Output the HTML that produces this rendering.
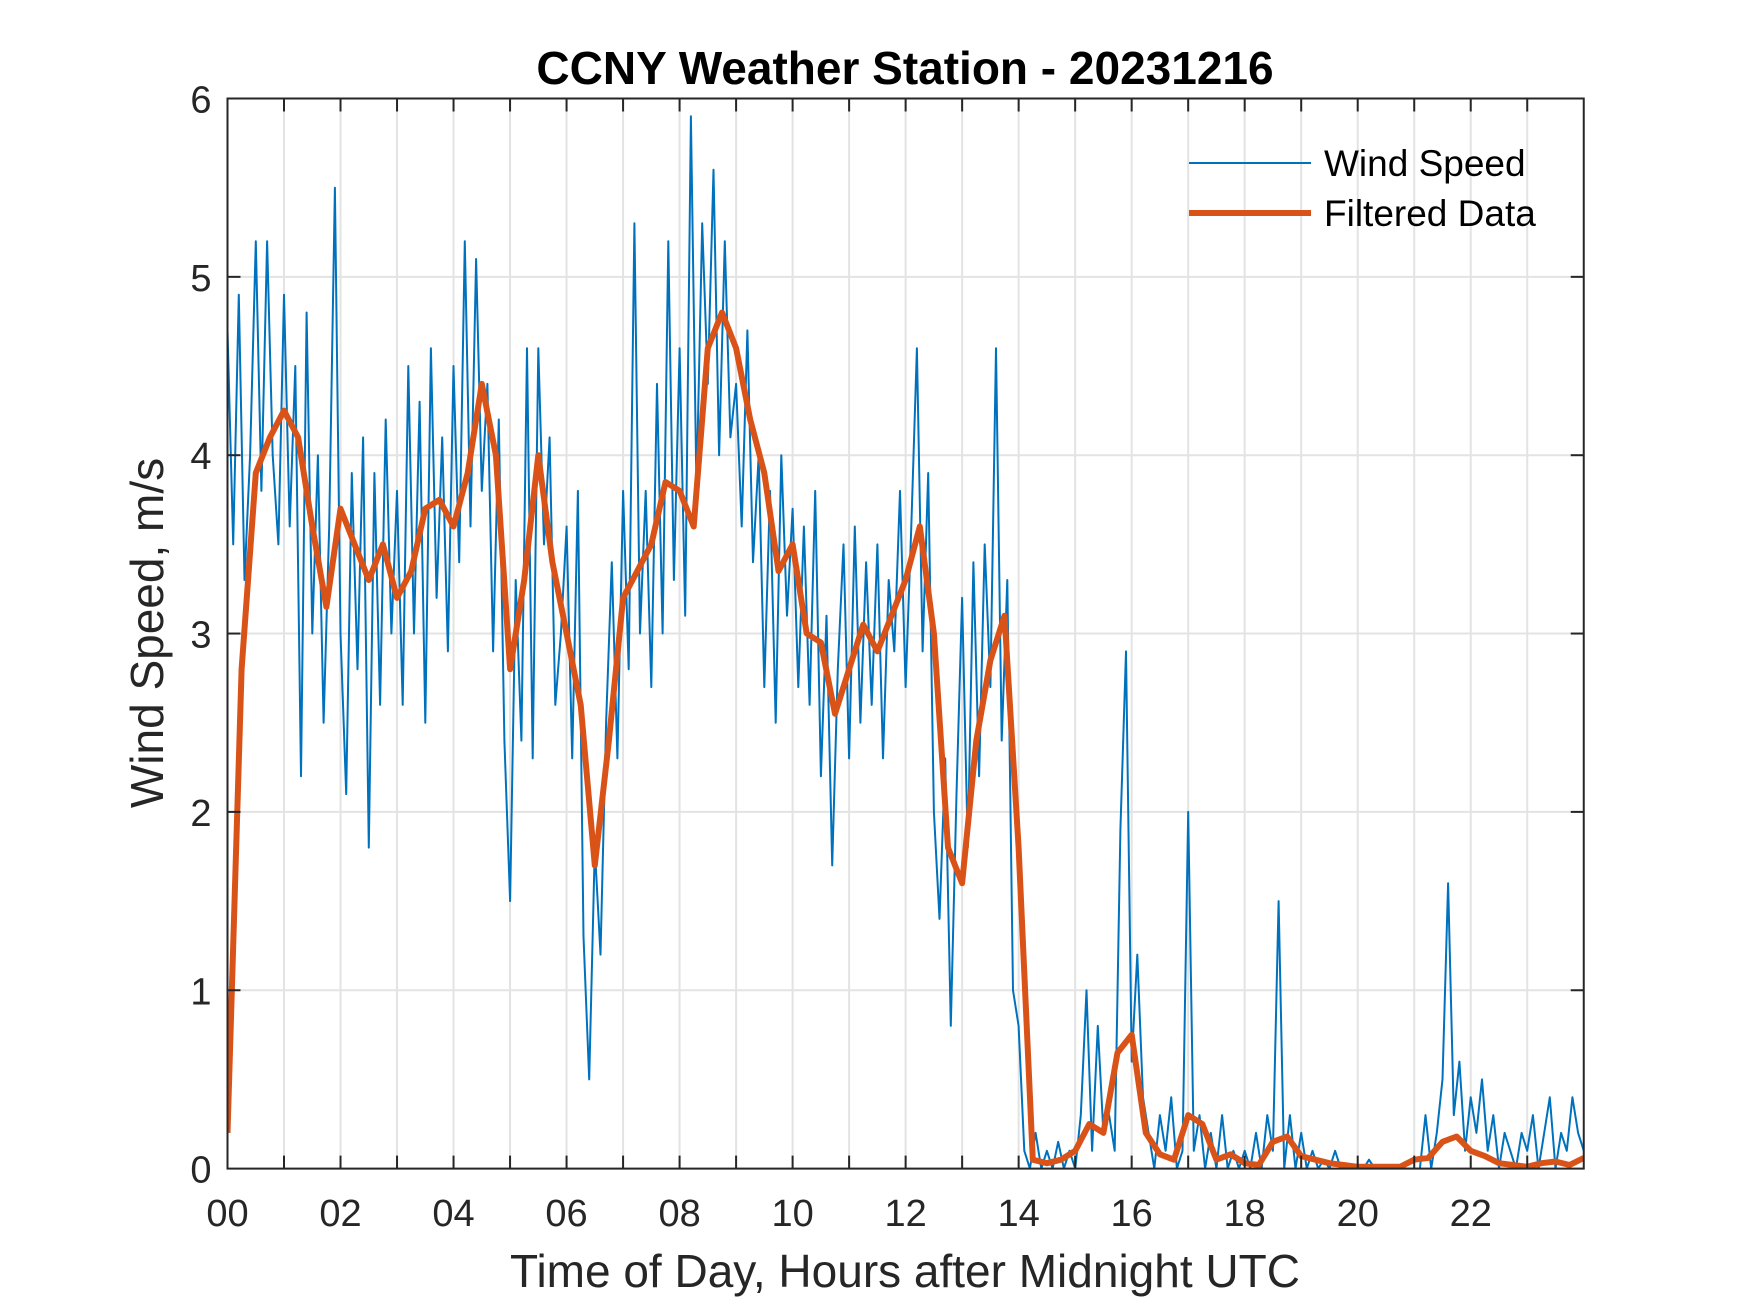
<!DOCTYPE html>
<html><head><meta charset="utf-8"><style>
html,body{margin:0;padding:0;background:#fff;}
svg{display:block;font-family:"Liberation Sans",sans-serif;}
</style></head><body>
<svg id="chart" width="1750" height="1313" viewBox="0 0 1750 1313" xmlns="http://www.w3.org/2000/svg">
<rect width="1750" height="1313" fill="#fff"/>
<g id="grid"></g>
<g id="series"></g>
<g id="axes"></g>
<text x="905" y="84" font-size="46" font-weight="bold" text-anchor="middle" fill="#000">CCNY Weather Station - 20231216</text>
<text x="905" y="1287" font-size="46" text-anchor="middle" fill="#262626">Time of Day, Hours after Midnight UTC</text>
<text transform="translate(163,633) rotate(-90)" font-size="46" text-anchor="middle" fill="#262626">Wind Speed, m/s</text>
<g>
<line x1="1189" y1="163" x2="1311" y2="163" stroke="#0072BD" stroke-width="2"/>
<text x="1324" y="176" font-size="37" fill="#000">Wind Speed</text>
<line x1="1189" y1="213" x2="1311" y2="213" stroke="#D95319" stroke-width="6"/>
<text x="1324" y="226" font-size="37" fill="#000">Filtered Data</text>
</g>
</svg>
<script>
const windSpeed = [
4.7,3.5,4.9,3.3,4.0,5.2,3.8,5.2,4.0,3.5,
4.9,3.6,4.5,2.2,4.8,3.0,4.0,2.5,3.6,5.5,
3.0,2.1,3.9,2.8,4.1,1.8,3.9,2.6,4.2,3.0,
3.8,2.6,4.5,3.0,4.3,2.5,4.6,3.2,4.1,2.9,
4.5,3.4,5.2,3.6,5.1,3.8,4.4,2.9,4.2,2.4,
1.5,3.3,2.4,4.6,2.3,4.6,3.5,4.1,2.6,3.0,
3.6,2.3,3.8,1.3,0.5,1.8,1.2,2.5,3.4,2.3,
3.8,2.8,5.3,3.0,3.8,2.7,4.4,3.0,5.2,3.3,
4.6,3.1,5.9,3.8,5.3,4.4,5.6,4.0,5.2,4.1,
4.4,3.6,4.7,3.4,4.0,2.7,3.8,2.5,4.0,3.1,
3.7,2.7,3.6,2.6,3.8,2.2,3.1,1.7,2.8,3.5,
2.3,3.6,2.5,3.4,2.6,3.5,2.3,3.3,2.9,3.8,
2.7,3.6,4.6,2.9,3.9,2.0,1.4,2.3,0.8,2.1,
3.2,1.8,3.4,2.2,3.5,2.7,4.6,2.4,3.3,1.0,
0.8,0.1,0.0,0.2,0.0,0.1,0.0,0.15,0.0,0.1,
0.0,0.3,1.0,0.1,0.8,0.2,0.3,0.1,1.9,2.9,
0.6,1.2,0.4,0.2,0.0,0.3,0.1,0.4,0.0,0.1,
2.0,0.1,0.3,0.0,0.2,0.0,0.3,0.0,0.1,0.0,
0.1,0.0,0.2,0.0,0.3,0.1,1.5,0.0,0.3,0.0,
0.2,0.0,0.1,0.0,0.05,0.0,0.1,0.0,0.0,0.0,
0.0,0.0,0.05,0.0,0.0,0.0,0.0,0.0,0.0,0.0,
0.0,0.0,0.3,0.0,0.2,0.5,1.6,0.3,0.6,0.1,
0.4,0.2,0.5,0.1,0.3,0.0,0.2,0.1,0.0,0.2,
0.1,0.3,0.0,0.2,0.4,0.0,0.2,0.1,0.4,0.2,
0.1];
const windStep = 0.1;
const filtered = [
0.2,2.8,3.9,4.1,4.25,4.1,3.6,3.15,3.7,3.5,3.3,3.5,3.2,3.35,3.7,3.75,
3.6,3.9,4.4,4.0,2.8,3.3,4.0,3.4,3.0,2.6,1.7,2.4,3.2,3.35,3.5,3.85,
3.8,3.6,4.6,4.8,4.6,4.2,3.9,3.35,3.5,3.0,2.95,2.55,2.8,3.05,2.9,3.1,
3.3,3.6,3.0,1.8,1.6,2.4,2.85,3.1,1.8,0.05,0.03,0.05,0.1,0.25,0.2,0.65,
0.75,0.2,0.08,0.05,0.3,0.25,0.05,0.08,0.03,0.02,0.15,0.18,0.07,0.05,0.03,0.02,
0.01,0.01,0.01,0.01,0.05,0.06,0.15,0.18,0.1,0.07,0.03,0.02,0.01,0.03,0.04,0.02,
0.06];
const filteredStep = 0.25;
const xTickLabels = ["00","02","04","06","08","10","12","14","16","18","20","22"];
const yTickLabels = ["0","1","2","3","4","5","6"];

const L=227.5,R=1583.75,T=98.5,B=1168.6;
const xs=h=>L+(R-L)*h/24;
const ys=v=>B-(B-T)*v/6;
const NS="http://www.w3.org/2000/svg";
function mk(tag,attrs,parent){const e=document.createElementNS(NS,tag);for(const k in attrs)e.setAttribute(k,attrs[k]);parent.appendChild(e);return e;}
const grid=document.getElementById('grid'),axes=document.getElementById('axes'),series=document.getElementById('series');
for(let h=1;h<24;h++){
  const l=mk('line',{x1:xs(h),x2:xs(h),y1:T,y2:B,stroke:'#e3e3e3','stroke-width':2},grid);
  
  
  for(const [a,b] of [[B,B-13],[T,T+13]]){
    const t=mk('line',{x1:xs(h),x2:xs(h),y1:a,y2:b,stroke:'#262626','stroke-width':2},axes);
    
    
  }
}
for(let v=1;v<6;v++){
  const l=mk('line',{x1:L,x2:R,y1:ys(v),y2:ys(v),stroke:'#e3e3e3','stroke-width':2},grid);
  
  
  for(const [a,b] of [[L,L+13],[R,R-13]]){
    const t=mk('line',{x1:a,x2:b,y1:ys(v),y2:ys(v),stroke:'#262626','stroke-width':2},axes);
    
    
  }
}
xTickLabels.forEach((s,i)=>{
  const t=mk('text',{x:xs(i*2),y:1226,'font-size':38,'text-anchor':'middle',fill:'#262626'},axes);
  t.textContent=s;
  
  
});
yTickLabels.forEach((s,i)=>{
  const t=mk('text',{x:L-16,y:ys(+s)+14,'font-size':38,'text-anchor':'end',fill:'#262626'},axes);
  t.textContent=s;
  
  
});
const box=mk('rect',{x:L,y:T,width:R-L,height:B-T,fill:'none',stroke:'#262626','stroke-width':2},axes);



const clip=mk('clipPath',{id:'pc'},series);
mk('rect',{x:L,y:T,width:R-L,height:B-T},clip);
const wp=windSpeed.map((v,i)=>xs(Math.min(24,i*windStep)).toFixed(1)+','+ys(v).toFixed(1)).join(' ');
const w=mk('polyline',{points:wp,fill:'none',stroke:'#0072BD','stroke-width':2,'stroke-linejoin':'round','clip-path':'url(#pc)'},series);


const fp=filtered.map((v,i)=>xs(Math.min(24,i*filteredStep)).toFixed(1)+','+ys(v).toFixed(1)).join(' ');
const f=mk('polyline',{points:fp,fill:'none',stroke:'#D95319','stroke-width':6,'stroke-linejoin':'round','clip-path':'url(#pc)'},series);


</script>
</body></html>
